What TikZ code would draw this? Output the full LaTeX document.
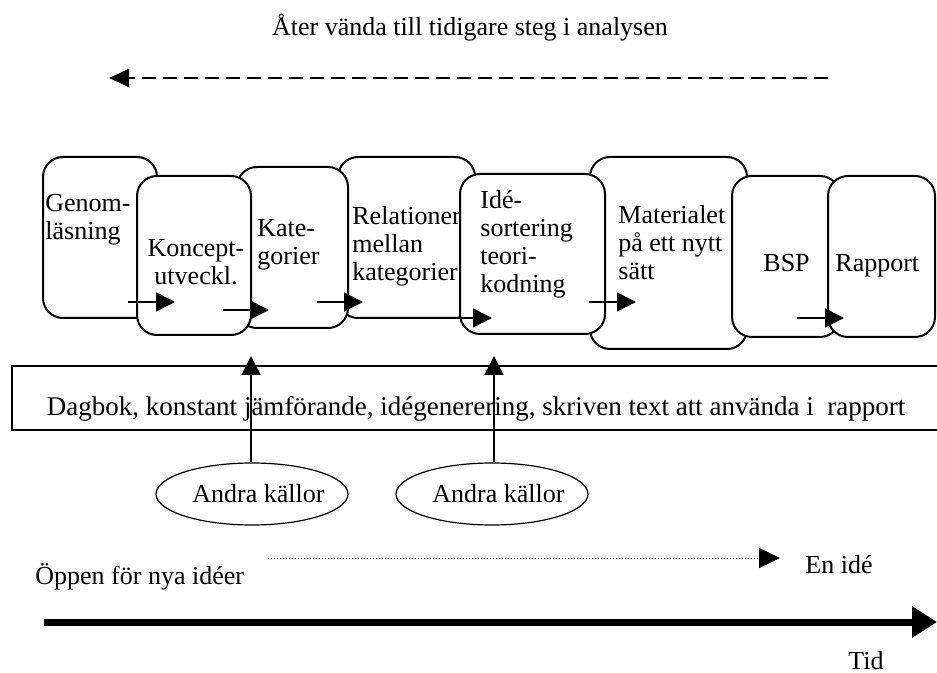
\documentclass[tikz,border=0pt]{standalone}
\usepackage{fontspec}
\setmainfont{Liberation Serif}
\usetikzlibrary{arrows.meta, shapes.geometric}

\tikzset{
  stepbox/.style={draw, line width=1pt, rounded corners=10pt, fill=white, inner sep=0pt},
  boxtxt/.style={inner sep=0pt, align=left, anchor=north west},
  plaintxt/.style={inner sep=0pt, anchor=base west},
  flow/.style={-{Triangle[length=9.5pt, width=9.5pt]}, line width=0.75pt},
  source/.style={draw, ellipse, line width=0.6pt, minimum width=96pt, minimum height=31pt, inner sep=0pt},
  backflow/.style={-{Triangle[length=10pt, width=9pt]}, line width=1.3pt, dash pattern=on 7pt off 3.5pt},
  ideaflow/.style={-{Triangle[length=10.5pt, width=10pt]}, line width=0.5pt, dash pattern=on 0.6pt off 0.9pt},
  timeflow/.style={-{Triangle[length=12.5pt, width=15pt]}, line width=3.5pt},
}

\begin{document}
\begin{tikzpicture}[x=0.5pt, y=-0.5pt, font=\fontsize{13}{14}\selectfont]
  \useasboundingbox (0,0) rectangle (937,673);
  \clip (0,0) rectangle (937,673);

  % going back
  \node[inner sep=0pt] (back) at (470,28) {Åter vända till tidigare steg i analysen};
  \coordinate (backfrom) at (828,78);
  \coordinate (backto) at (109,78);
  \draw[backflow] (backfrom) -- (backto);

  % the steps
  \node[stepbox, minimum width=57pt, minimum height=80.5pt] (genom) at (100,237.5) {};
  \node[boxtxt] (genomt) at (45,193.5) {Genom-\\läsning};
  \node[stepbox, minimum width=68.5pt, minimum height=80.5pt] (relation) at (406.5,237.5) {};
  \node[boxtxt] (relationt) at (352,206.5) {Relationer\\mellan\\kategorier};
  \node[stepbox, minimum width=55.5pt, minimum height=80.5pt] (kate) at (292.5,247.5) {};
  \node[boxtxt] (katet) at (257,219.5) {Kate-\\gorier};
  \node[stepbox, minimum width=57pt, minimum height=79.5pt] (koncept) at (194,255.5) {};
  \node[boxtxt, align=center, anchor=north] (konceptt) at (196,239.5) {Koncept-\\utveckl.};
  \node[stepbox, minimum width=78.5pt, minimum height=96pt] (material) at (668.5,253) {};
  \node[boxtxt] (materialt) at (618,205.5) {Materialet\\på ett nytt\\sätt};
  \node[stepbox, minimum width=72.5pt, minimum height=80pt] (ide) at (532.5,254) {};
  \node[boxtxt] (idet) at (480,190.5) {Idé-\\sortering\\teori-\\kodning};
  \node[stepbox, minimum width=54pt, minimum height=80.5pt] (bsp) at (786,256.5) {};
  \node[plaintxt] (bspt) at (763,272) {BSP};
  \node[stepbox, minimum width=53.5pt, minimum height=80.5pt] (rapport) at (881.5,256.5) {};
  \node[plaintxt] (rapportt) at (835,272) {Rapport};

  % small arrows between the steps
  \coordinate (s1) at (128,302); \coordinate (e1) at (175,302);
  \coordinate (s2) at (223,310); \coordinate (e2) at (269,310);
  \coordinate (s3) at (317,302); \coordinate (e3) at (363,302);
  \coordinate (s4) at (445,318); \coordinate (e4) at (492,318);
  \coordinate (s5) at (589,302); \coordinate (e5) at (636,302);
  \coordinate (s6) at (797,318); \coordinate (e6) at (844,318);
  \foreach \i in {1,...,6}
    \draw[flow] (s\i) -- (e\i);

  % diary
  \node[draw, line width=1pt, minimum width=464pt, minimum height=32pt,
        text height=19pt, text depth=1pt, inner ysep=6pt,
        font=\fontsize{13.5}{14}\selectfont] (dagbok) at (476,398)
        {Dagbok, konstant jämförande, idégenerering, skriven text att använda i~ rapport};

  % other sources
  \node[source] (kalla1) at (252,494) {\hspace*{3.25pt}Andra källor\hspace*{-3.25pt}};
  \node[source] (kalla2) at (492,494) {\hspace*{3.25pt}Andra källor\hspace*{-3.25pt}};
  \coordinate (in1) at (251,356);
  \coordinate (in2) at (494,356);
  \draw[flow] (kalla1.north -| in1) -- (in1);
  \draw[flow] (kalla2.north -| in2) -- (in2);

  % open to one idea
  \node[plaintxt] (open) at (35,584) {Öppen för nya idéer};
  \node[plaintxt] (idea) at (805,573) {En idé};
  \coordinate (ideafrom) at (268,558);
  \coordinate (ideato) at (780,558);
  \draw[ideaflow] (ideafrom) -- (ideato);

  % time
  \coordinate (timefrom) at (44,622);
  \coordinate (timeto) at (937,622);
  \draw[timeflow] (timefrom) -- (timeto);
  \node[plaintxt] (tid) at (848,669) {Tid};
\end{tikzpicture}
\end{document}
